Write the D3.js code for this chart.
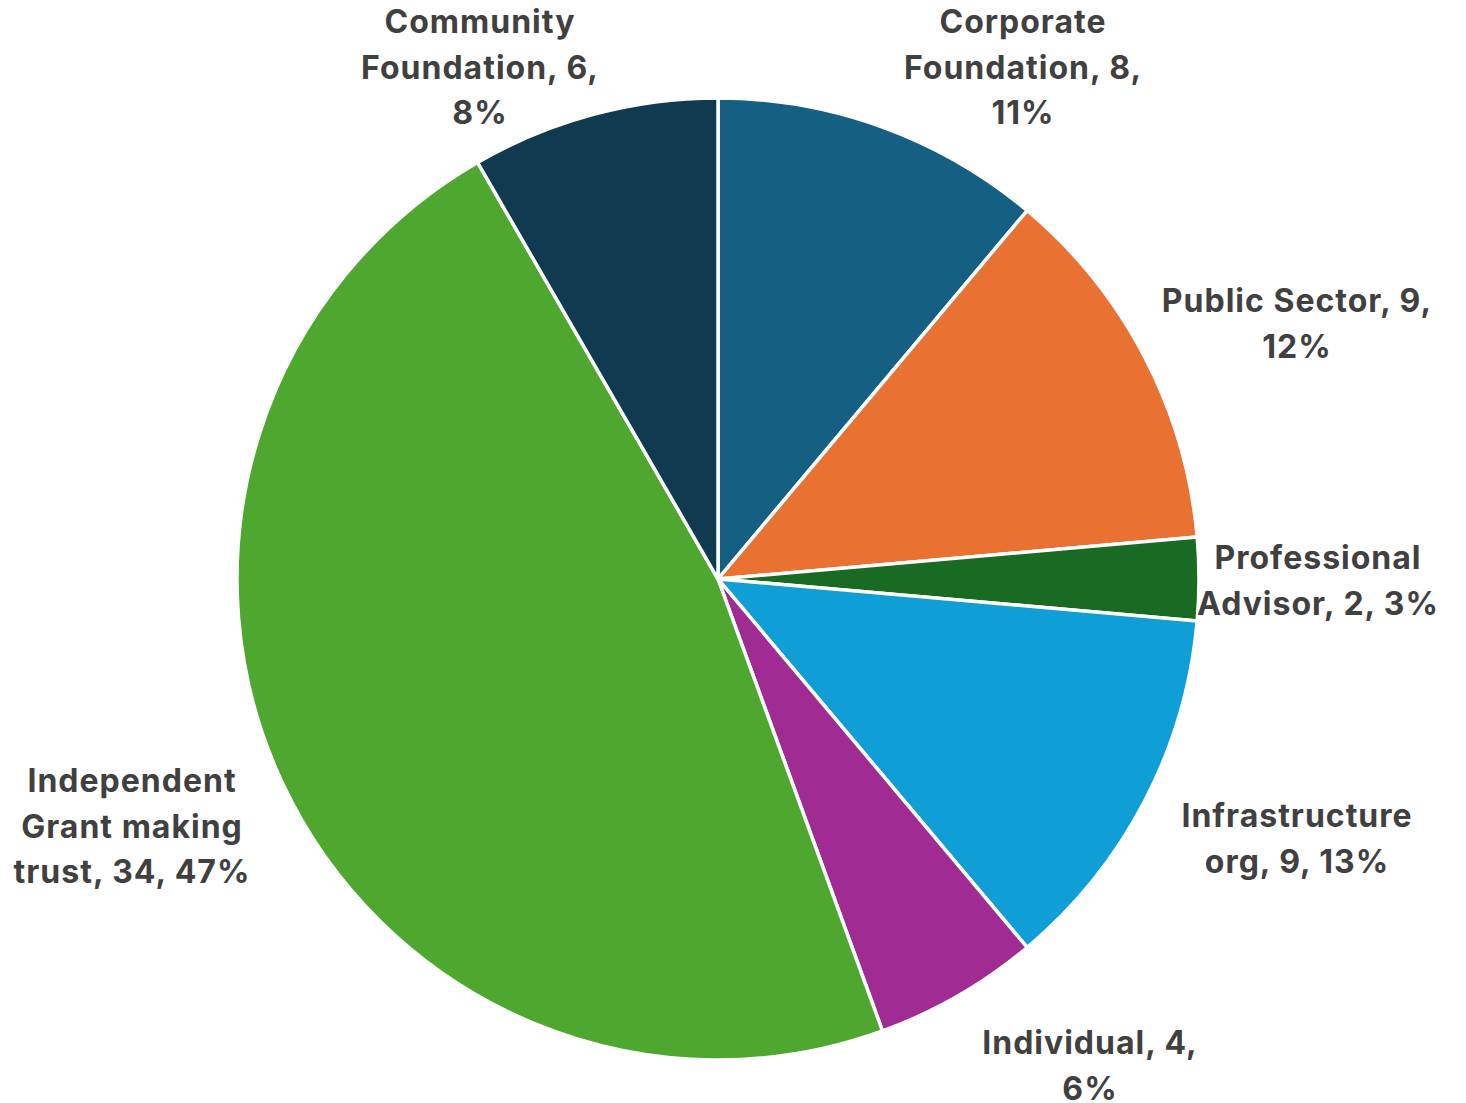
<!DOCTYPE html>
<html><head><meta charset="utf-8">
<script src="https://cdn.jsdelivr.net/npm/d3@7/dist/d3.min.js"></script>
<style>html,body{margin:0;padding:0;background:#fff;}</style>
</head><body>
<svg id="chart" width="1466" height="1103"></svg>
<script>
const categories = ["Corporate Foundation","Public Sector","Professional Advisor","Infrastructure org","Individual","Independent Grant making trust","Community Foundation"];
const values = [8, 9, 2, 9, 4, 34, 6];
const percentLabels = ["11%","12%","3%","13%","6%","47%","8%"];
const colors = ["#156082","#E97132","#196B24","#0F9ED5","#A02B93","#4EA72E","#0F3A50"];
// label text lines (as displayed, wrapped)
const labelLines = [
  ["Corporate","Foundation, 8,","11%"],
  ["Public Sector, 9,","12%"],
  ["Professional","Advisor, 2, 3%"],
  ["Infrastructure","org, 9, 13%"],
  ["Individual, 4,","6%"],
  ["Independent","Grant making","trust, 34, 47%"],
  ["Community","Foundation, 6,","8%"]
];
// label layout: center x and first baseline relative to pie center
const labelLayout = [
  [305, -546],[579, -267],[600, -10],[579, 248],[372, 475],[-586, 213],[-238, -546]
];

const cx = 718, cy = 579, R = 481;
const svg = d3.select("#chart");
const g = svg.append("g").attr("transform", `translate(${cx},${cy})`);
const data = categories.map((c,i)=>({name:c, value:values[i], i}));
const pie = d3.pie().sort(null).value(d=>d.value);
const arc = d3.arc().innerRadius(0).outerRadius(R);
g.selectAll("path").data(pie(data)).join("path")
  .attr("d", arc)
  .attr("fill", d=>colors[d.data.i])
  .attr("stroke", "#fff").attr("stroke-width", 3.5).attr("stroke-linejoin","round");

const lineH = 45.5;
const lab = g.selectAll("text.lab").data(data).join("text")
  .attr("class","lab")
  .attr("text-anchor","middle")
  .attr("font-family","Inter, 'Open Sans', sans-serif")
  .attr("font-weight","700")
  .attr("font-size","32px")
  .attr("letter-spacing","1px")
  .attr("fill","#404040");
lab.each(function(d){
  const t = d3.select(this);
  const [lx, ly] = labelLayout[d.i];
  labelLines[d.i].forEach((ln, k)=>{
    t.append("tspan").attr("x", lx).attr("y", ly + k*lineH).text(ln);
  });
});
</script>
</body></html>
